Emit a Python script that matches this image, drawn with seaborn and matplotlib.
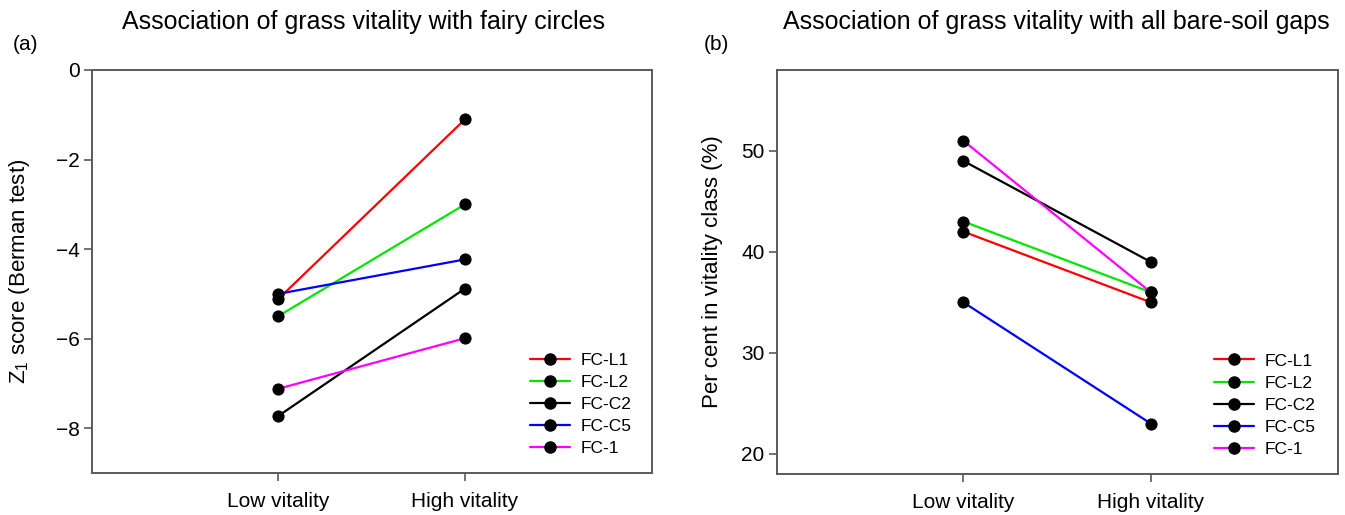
import matplotlib
matplotlib.use("Agg")
import matplotlib.pyplot as plt
from matplotlib.lines import Line2D
import seaborn as sns
import pandas as pd

# ---- data ----
categories = ["Low vitality", "High vitality"]
series = ["FC-L1", "FC-L2", "FC-C2", "FC-C5", "FC-1"]
colors = ["#ff0000", "#00e600", "#000000", "#0000ff", "#ff00ff"]

z_low = [-5.12, -5.5, -7.73, -5.0, -7.12]
z_high = [-1.1, -3.0, -4.88, -4.23, -5.99]

pct_low = [42, 43, 49, 35, 51]
pct_high = [35, 36, 39, 23, 36]

title_a = "Association of grass vitality with fairy circles"
title_b = "Association of grass vitality with all bare-soil gaps"
ylabel_a = r"$\mathregular{Z_1}$ score (Berman test)"
ylabel_b = "Per cent in vitality class (%)"

def frame(low, high):
    rows = []
    for s, lo, hi in zip(series, low, high):
        rows.append({"cat": categories[0], "series": s, "val": lo})
        rows.append({"cat": categories[1], "series": s, "val": hi})
    return pd.DataFrame(rows)

sns.set_theme(style="white")
plt.rcParams["font.family"] = ["Liberation Sans", "DejaVu Sans"]
plt.rcParams["mathtext.fontset"] = "custom"
plt.rcParams["mathtext.rm"] = "Liberation Sans"
for k in ["text.color", "axes.labelcolor", "xtick.labelcolor", "ytick.labelcolor"]:
    plt.rcParams[k] = "black"

fig = plt.figure(figsize=(13.45, 5.15), dpi=100)
W, H = 1345, 515
ax1 = fig.add_axes([92 / W, (H - 473) / H, 560 / W, 403 / H])
ax2 = fig.add_axes([777 / W, (H - 474) / H, 561 / W, 404 / H])

palette = dict(zip(series, colors))
spine_col = "#5a5a5a"

def draw(ax, df, ylim, yticks, ylabel, label_x, leg_anchor):
    sns.lineplot(data=df, x="cat", y="val", hue="series", hue_order=series,
                 palette=palette, marker="o", markersize=8,
                 markerfacecolor="black", markeredgecolor="black",
                 linewidth=1.6, sort=False, legend=False, ax=ax)
    ax.set_xlim(-0.995, 2.0)
    ax.set_ylim(*ylim)
    ax.set_yticks(yticks)
    ax.set_xlabel("")
    ax.set_ylabel(ylabel, fontsize=16)
    ax.yaxis.set_label_coords(label_x, 0.5)
    for sp in ax.spines.values():
        sp.set_color(spine_col)
        sp.set_linewidth(1.4)
        sp.set_visible(True)
    ax.tick_params(axis="both", which="major", direction="out", length=6,
                   width=1.2, color=spine_col, labelsize=15, bottom=True,
                   left=True, top=False, right=False, pad=3)
    ax.tick_params(axis="x", pad=8)
    handles = [Line2D([0], [0], color=c, lw=1.6, marker="o", markersize=8,
                      markerfacecolor="black", markeredgecolor="black")
               for c in colors]
    ax.legend(handles, series, loc="lower right", bbox_to_anchor=leg_anchor,
              frameon=False, fontsize=12.5, handlelength=2.3,
              handletextpad=0.6, labelspacing=0.4, borderaxespad=0)

draw(ax1, frame(z_low, z_high), (-9, 0), [0, -2, -4, -6, -8], ylabel_a,
     -0.107, (0.976, 0.025))
draw(ax2, frame(pct_low, pct_high), (18, 58), [20, 30, 40, 50], ylabel_b,
     -0.096, (0.972, 0.025))

fig.text(364 / W, 1 - 22 / H, title_a, ha="center", va="center", fontsize=18)
fig.text(1056 / W, 1 - 22 / H, title_b, ha="center", va="center", fontsize=18)
fig.text(26 / W, 1 - 45 / H, "(a)", ha="center", va="center", fontsize=15)
fig.text(716 / W, 1 - 45 / H, "(b)", ha="center", va="center", fontsize=15)

fig.savefig("out.png", dpi=100)
